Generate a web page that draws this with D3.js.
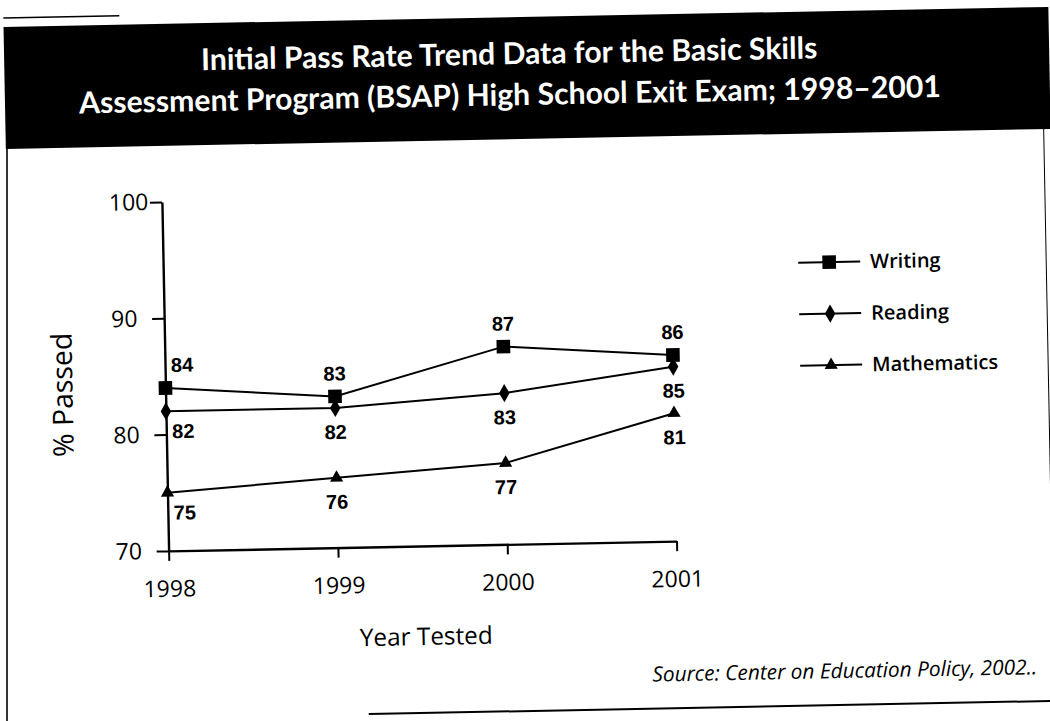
<!DOCTYPE html>
<html lang="en">
<head>
<meta charset="utf-8">
<title>BSAP Initial Pass Rate Trend</title>
<script src="https://cdn.jsdelivr.net/npm/d3@7"></script>
<style>
	body { margin: 0; background: #fff; }
	svg { display: block; }
</style>
</head>
<body>
<div id="chart"></div>
<script>
// data
var years = [1998, 1999, 2000, 2001];
var writing = [84, 83, 87, 86];
var reading = [82, 82, 83, 85];
var mathematics = [75, 76, 77, 81];
var seriesNames = ["Writing", "Reading", "Mathematics"];
var yTicks = [70, 80, 90, 100];
var titleLines = ["Initial Pass Rate Trend Data for the Basic Skills",
	"Assessment Program (BSAP) High School Exit Exam; 1998\u20132001"];
var xTitle = "Year Tested";
var yTitle = "% Passed";
var sourceText = "Source: Center on Education Policy, 2002..";

var w = 1050, h = 721;
var plotL = 165, plotR = 673, plotT = 195, plotB = 544;

var svg = d3.select("#chart").append("svg")
	.attr("width", w)
	.attr("height", h);

// the page was scanned a little crooked
var g = svg.append("g").attr("transform", "rotate(-1.1, 525, 360)");

// left border stays upright
svg.append("line")
	.attr("x1", 7).attr("x2", 7)
	.attr("y1", 148).attr("y2", h)
	.attr("stroke", "#000").attr("stroke-width", 1.6);

var fitWidth = function(sel, target) {
	var len = sel.node().getComputedTextLength();
	var fs = parseFloat(sel.attr("font-size"));
	sel.attr("font-size", fs * target / len);
	return fs * target / len;
};

// header band
g.append("line")
	.attr("x1", 10).attr("x2", 126)
	.attr("y1", 8).attr("y2", 8)
	.attr("stroke", "#000").attr("stroke-width", 1.5);

g.append("rect")
	.attr("x", 10).attr("y", 17)
	.attr("width", 1045).attr("height", 122)
	.attr("fill", "#000");

var t2 = g.append("text")
	.attr("x", 515).attr("y", 105)
	.attr("text-anchor", "middle")
	.attr("fill", "#fff")
	.attr("font-family", "Lato, sans-serif")
	.attr("font-weight", 700)
	.attr("font-size", 26)
	.text(titleLines[1]);
var titleSize = fitWidth(t2, 862);

g.append("text")
	.attr("x", 515).attr("y", 64)
	.attr("text-anchor", "middle")
	.attr("fill", "#fff")
	.attr("font-family", "Lato, sans-serif")
	.attr("font-weight", 700)
	.attr("font-size", titleSize)
	.text(titleLines[0]);

// frame
g.append("line")
	.attr("x1", 1048).attr("x2", 1048)
	.attr("y1", 139).attr("y2", 711)
	.attr("stroke", "#000").attr("stroke-width", 1);

g.append("line")
	.attr("x1", 362).attr("x2", 1050)
	.attr("y1", 711).attr("y2", 711)
	.attr("stroke", "#000").attr("stroke-width", 2);

// scales and axes
var xScale = d3.scaleLinear()
	.domain([years[0], years[years.length - 1]])
	.range([plotL, plotR]);

var yScale = d3.scaleLinear()
	.domain([70, 100])
	.range([plotB, plotT]);

var xAxis = d3.axisBottom(xScale)
	.tickValues(years)
	.tickFormat(d3.format("d"))
	.tickSize(10)
	.tickSizeOuter(0);

var yAxis = d3.axisLeft(yScale)
	.tickValues(yTicks)
	.tickSize(12)
	.tickSizeOuter(0);

var gx = g.append("g")
	.attr("transform", "translate(0," + plotB + ")")
	.call(xAxis);

var gy = g.append("g")
	.attr("transform", "translate(" + plotL + ",0)")
	.call(yAxis);

[gx, gy].forEach(function(a) {
	a.select(".domain").attr("stroke", "#000").attr("stroke-width", 2.4);
	a.selectAll(".tick line").attr("stroke", "#000").attr("stroke-width", 2);
	a.selectAll(".tick text")
		.attr("fill", "#000")
		.attr("font-family", "'Open Sans', sans-serif")
		.attr("font-size", 23);
});

gx.selectAll(".tick text").attr("y", 46).attr("dy", 0);
gy.selectAll(".tick text")
	.attr("text-anchor", "start")
	.attr("x", 112 - plotL);

// axis titles
var xt = g.append("text")
	.attr("x", 421).attr("y", 643)
	.attr("text-anchor", "middle")
	.attr("font-family", "'Open Sans', sans-serif")
	.attr("font-weight", 500)
	.attr("font-size", 25)
	.text(xTitle);
fitWidth(xt, 133);

var yt = g.append("text")
	.attr("transform", "translate(72,386) rotate(-90)")
	.attr("text-anchor", "middle")
	.attr("font-family", "'Open Sans', sans-serif")
	.attr("font-weight", 500)
	.attr("font-size", 25)
	.text(yTitle);
fitWidth(yt, 124);

// series
var series = [
	{ name: seriesNames[0], values: writing, symbol: d3.symbolSquare, size: 185, label: "above" },
	{ name: seriesNames[1], values: reading, symbol: d3.symbolDiamond, size: 95, label: "below" },
	{ name: seriesNames[2], values: mathematics, symbol: d3.symbolTriangle, size: 75, label: "below" }
];

var line = d3.line()
	.x(function(d, i) { return xScale(years[i]); })
	.y(function(d) { return yScale(d); });

series.forEach(function(s) {
	g.append("path")
		.datum(s.values)
		.attr("d", line)
		.attr("fill", "none")
		.attr("stroke", "#000")
		.attr("stroke-width", 2);

	g.selectAll(null)
		.data(s.values)
		.enter()
		.append("path")
		.attr("transform", function(d, i) {
			return "translate(" + xScale(years[i]) + "," + yScale(d) + ")";
		})
		.attr("d", d3.symbol().type(s.symbol).size(s.size))
		.attr("fill", "#000");

	g.selectAll(null)
		.data(s.values)
		.enter()
		.append("text")
		.attr("x", function(d, i) {
			return xScale(years[i]) + (i == 0 ? 17 : 0);
		})
		.attr("y", function(d, i) {
			if (s.label == "above") return yScale(d) - 16;
			return yScale(d) + (i == 0 ? 27 : 31);
		})
		.attr("text-anchor", "middle")
		.attr("font-family", "'Liberation Sans', Arial, sans-serif")
		.attr("font-weight", "bold")
		.attr("font-size", 20)
		.text(function(d) { return d; });
});

// legend
var legend = g.selectAll(".legend")
	.data(series)
	.enter()
	.append("g")
	.attr("class", "legend")
	.attr("transform", function(d, i) { return "translate(831," + (268 + i * 51.5) + ")"; });

legend.append("line")
	.attr("x1", -31).attr("x2", 31)
	.attr("stroke", "#000").attr("stroke-width", 2);

legend.append("path")
	.attr("d", function(d) { return d3.symbol().type(d.symbol).size(d.size)(); })
	.attr("fill", "#000");

legend.append("text")
	.attr("x", 41)
	.attr("dy", "0.35em")
	.attr("font-family", "'Open Sans', sans-serif")
	.attr("font-weight", 600)
	.attr("font-size", 20)
	.text(function(d) { return d.name; });

// source note
var src = g.append("text")
	.attr("x", 1031).attr("y", 684)
	.attr("text-anchor", "end")
	.attr("font-family", "'Open Sans', sans-serif")
	.attr("font-style", "italic")
	.attr("font-size", 19)
	.text(sourceText);
fitWidth(src, 385);
</script>
</body>
</html>
